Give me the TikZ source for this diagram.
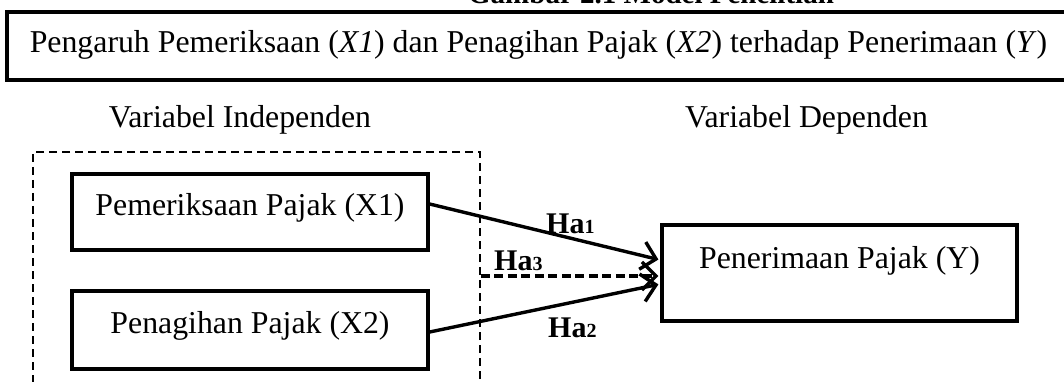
\documentclass[tikz,border=0pt]{standalone}
\usepackage{fontspec}
\setmainfont{Liberation Serif}
\usetikzlibrary{arrows.meta,calc}

\newcommand{\hyp}[1]{\fontsize{30}{32}\selectfont\bfseries Ha\fontsize{20}{22}\selectfont #1}

\tikzset{
  body/.style={font=\fontsize{31.8}{34}\selectfont},
  varbox/.style={draw, line width=3.3pt, rectangle, inner sep=0pt,
    body, text height=22pt},
  link/.style={line width=3.4pt, shorten >=2pt,
    -{Straight Barb[length=14pt,width=28pt,line width=3.4pt]}},
  hlabel/.style={anchor=base west, inner sep=0pt},
}

\begin{document}
\begin{tikzpicture}[x=1pt,y=-1pt]
  \useasboundingbox (0,0) rectangle (1064,382);
  \clip (0,0) rectangle (1064,382);

  % figure caption, running off the top edge
  \node[anchor=base, inner sep=0pt, font=\fontsize{29}{31}\selectfont\bfseries]
    (caption) at (651,4) {Gambar 2.1 Model Penelitian};

  % title frame (its right side runs past the edge)
  \node[draw, line width=4pt, inner sep=0pt, minimum width=1063pt,
        minimum height=68pt, body, text height=22pt, text depth=8pt]
    (topic) at (538.5,46)
    {Pengaruh Pemeriksaan (\textit{X1}) dan Penagihan Pajak (\textit{X2}) terhadap Penerimaan (\textit{Y})};

  % column headings
  \node[anchor=base, inner sep=0pt, body] (hindep) at (240,128) {Variabel Independen};
  \node[anchor=base, inner sep=0pt, body] (hdep) at (806.5,128) {Variabel Dependen};

  % dashed frame round the independent variables
  \node[draw, dash pattern=on 8pt off 5pt, line width=1.6pt, inner sep=0pt,
        minimum width=447pt, minimum height=248pt] (frame) at (256.5,276) {};

  % variable boxes
  \node[varbox, minimum width=356pt, minimum height=76pt, text depth=16pt]
    (x1) at (250,212) {Pemeriksaan Pajak (X1)};
  \node[varbox, minimum width=356pt, minimum height=78pt, text depth=16pt]
    (x2) at (250,330) {Penagihan Pajak (X2)};
  \node[varbox, minimum width=355pt, minimum height=96pt, text depth=32pt]
    (y) at (839.5,273) {Penerimaan Pajak (Y)};

  % hypotheses
  \draw[link] ([yshift=8pt]x1.east) -- ([yshift=13pt]y.west);
  \draw[link] ([yshift=-2pt]x2.east) -- ([yshift=-11pt]y.west);
  \draw[link, dash pattern=on 9pt off 4.5pt] (frame.east) -- (frame.east -| y.west);

  \node[hlabel] (ha1) at (546,233) {\hyp{1}};
  \node[hlabel] (ha3) at (494,270) {\hyp{3}};
  \node[hlabel] (ha2) at (548,337) {\hyp{2}};
\end{tikzpicture}
\end{document}
